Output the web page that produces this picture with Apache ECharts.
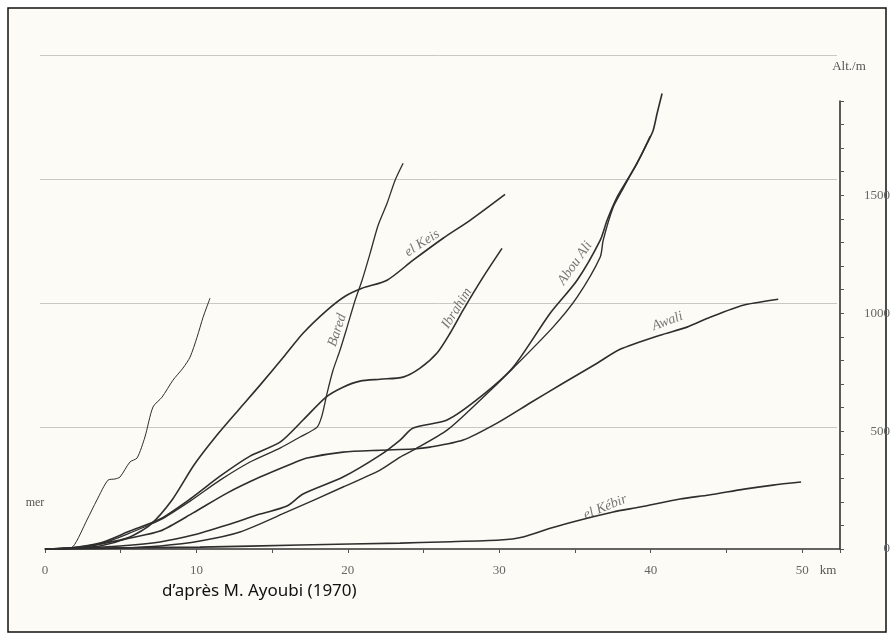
<!DOCTYPE html>
<html>
<head>
<meta charset="utf-8">
<script src="https://cdn.jsdelivr.net/npm/echarts@6/dist/echarts.min.js"></script>
<style>
html,body{margin:0;padding:0;background:#fff;}
#c{width:896px;height:640px;}
</style>
</head>
<body>
<div id="c"></div>
<script>
// ---- data: [km, altitude m] ----
var thinProfile = [[0,0],[1.3,4],[1.85,10],[2.77,123],[3.43,208],[4.16,292],[4.62,297],[4.95,305],[5.61,369],[6.08,386],[6.6,475],[7.13,602],[7.73,644],[8.45,716],[9.11,767],[9.58,814],[10.04,898],[10.44,983],[10.9,1064]];
var elKeis = [[0,0],[1.65,4],[3.63,13],[5.61,51],[6.94,102],[8.39,208],[9.84,356],[11.36,483],[12.88,597],[14.2,695],[15.85,822],[17.04,915],[18.63,1013],[19.82,1072],[20.94,1106],[22.59,1140],[24.31,1225],[26.29,1318],[28.07,1394],[30.38,1504]];
var bared = [[0,0],[1.65,2],[3.63,21],[5.61,68],[7.6,123],[9.58,203],[11.56,292],[13.54,369],[15.52,428],[16.84,475],[17.97,517],[18.3,568],[18.63,661],[19.02,758],[19.48,843],[19.95,941],[20.48,1055],[20.94,1140],[21.47,1254],[22.0,1373],[22.59,1466],[23.12,1564],[23.65,1636]];
var ibrahim = [[0,0],[1.65,4],[3.63,25],[5.61,76],[7.6,127],[9.58,212],[11.56,309],[13.54,394],[15.52,453],[17.04,547],[18.56,644],[19.68,686],[20.81,712],[22.13,720],[23.65,729],[24.77,767],[25.89,831],[26.75,915],[27.61,1013],[28.93,1153],[30.18,1275]];
var awali = [[0,0],[1.65,4],[3.63,21],[5.61,47],[7.6,76],[9.78,153],[12.02,237],[14.2,305],[16.38,364],[17.31,386],[19.68,411],[22.13,419],[24.31,424],[25.43,432],[27.61,462],[29.85,534],[32.03,619],[34.21,703],[36.46,788],[37.98,847],[40.62,907],[42.4,941],[43.92,983],[46.1,1034],[48.42,1059]];
var abouAli = [[0,0],[2.31,4],[4.95,13],[7.6,30],[9.78,59],[12.02,102],[14.2,148],[15.98,182],[17.04,233],[19.68,305],[22.13,398],[23.45,462],[24.31,513],[26.55,547],[28.73,644],[30.91,771],[33.36,1000],[35.14,1140],[36.66,1309],[37.12,1394],[37.78,1492],[38.44,1564],[39.1,1636],[39.76,1720],[40.16,1775],[40.42,1847],[40.75,1932]];
var abouAli2 = [[0,0],[2.31,1],[4.95,4],[7.6,13],[10.24,34],[12.88,72],[15.98,157],[19.68,263],[22.13,335],[23.45,390],[24.31,419],[26.55,504],[28.73,631],[30.91,767],[33.55,941],[35.14,1068],[36.66,1237],[36.86,1309],[37.52,1449],[38.11,1521],[38.77,1598],[39.43,1678],[39.96,1750]];
var elKebir = [[0,0],[3.63,4],[10.24,8],[16.84,17],[23.45,25],[26.16,30],[30.05,38],[31.57,51],[33.42,89],[35.35,123],[37.52,157],[39.3,178],[41.94,212],[43.86,229],[46.17,254],[48.08,271],[49.93,284]];

// river name labels
var labelTexts = ['el Keis','Bared','Ibrahim','Abou Ali','Awali','el Kébir'];
var labelKm    = [24.9, 19.3, 27.2, 35.0, 41.1, 37.0];
var labelAlt   = [1297, 928, 1021, 1212, 966, 178];
var labelAngle = [33, 72, 58, 55, 20, 22];

// axes
var xTickStep = 5, xLabelStep = 10, xMax = 52.5;
var yTickStep = 100, yLabelStep = 500, yMax = 1900;

var lineColor = '#2e2e2e';
function lineSeries(data, w) {
  return {type:'line', data:data, xAxisIndex:0, yAxisIndex:0, showSymbol:false, symbol:'none',
          smooth:0.25, clip:false, lineStyle:{color:lineColor, width:w}, z:5, silent:true};
}
var labelData = labelTexts.map(function(t,i){
  return {value:[labelKm[i], labelAlt[i]], name:t, label:{rotate:labelAngle[i]}};
});

var chart = echarts.init(document.getElementById('c'), null, {renderer:'canvas'});
chart.setOption({
  animation:false,
  backgroundColor:'#ffffff',
  graphic:[
    {type:'rect', z:-10, silent:true, shape:{x:8,y:8,width:878,height:624},
     style:{fill:'#fcfbf5', stroke:'#111', lineWidth:1.5}},
    {type:'text', x:849, y:67, silent:true, style:{text:'Alt./m', font:'13px "Liberation Serif"', fill:'#555', align:'center', verticalAlign:'middle'}},
    {type:'text', x:35, y:503, silent:true, style:{text:'mer', font:'12px "Liberation Serif"', fill:'#555', align:'center', verticalAlign:'middle'}},
    {type:'text', x:828, y:571, silent:true, style:{text:'km', font:'13px "Liberation Serif"', fill:'#555', align:'center', verticalAlign:'middle'}},
    {type:'text', x:162, y:591, silent:true, style:{text:'d\u2019après M. Ayoubi (1970)', font:'17px "Noto Sans"', fill:'#111', align:'left', verticalAlign:'middle'}}
  ],
  grid:[
    {left:45, right:56, top:101, bottom:91},
    {left:40, right:59, top:55, bottom:213}
  ],
  xAxis:[
    {type:'value', gridIndex:0, min:0, max:xMax, interval:xTickStep,
     axisLine:{show:true, onZero:false, lineStyle:{color:'#333', width:1.6}},
     axisTick:{show:true, inside:false, length:4, lineStyle:{color:'#555'}},
     axisLabel:{margin:15, color:'#666', fontFamily:'Liberation Serif', fontSize:13,
                formatter:function(v){ return (Math.abs(v % xLabelStep) < 1e-6) ? String(v) : ''; }},
     splitLine:{show:false}},
    {type:'value', gridIndex:1, min:0, max:1, show:false}
  ],
  yAxis:[
    {type:'value', gridIndex:0, position:'right', min:0, max:yMax, interval:yTickStep,
     axisLine:{show:true, onZero:false, lineStyle:{color:'#333', width:1.6}},
     axisTick:{show:true, inside:false, length:4, lineStyle:{color:'#555'}},
     axisLabel:{margin:50, align:'right', color:'#666', fontFamily:'Liberation Serif', fontSize:13,
                formatter:function(v){ return (Math.abs(v % yLabelStep) < 1e-6) ? String(v) : ''; }},
     splitLine:{show:false}},
    {type:'value', gridIndex:1, min:1, max:4, interval:1,
     axisLine:{show:false}, axisTick:{show:false}, axisLabel:{show:false},
     splitLine:{show:true, lineStyle:{color:'#c9c9c4', width:1}}}
  ],
  series:[
    lineSeries(thinProfile, 1.0),
    lineSeries(elKeis, 1.6),
    lineSeries(bared, 1.3),
    lineSeries(ibrahim, 1.6),
    lineSeries(awali, 1.6),
    lineSeries(abouAli, 1.6),
    lineSeries(abouAli2, 1.4),
    lineSeries(elKebir, 1.6),
    {type:'scatter', xAxisIndex:0, yAxisIndex:0, symbolSize:0, data:labelData, silent:true, z:6,
     label:{show:true, position:'inside', formatter:'{b}', color:'#555', fontFamily:'Liberation Serif',
            fontStyle:'italic', fontSize:14}}
  ]
});
</script>
</body>
</html>
